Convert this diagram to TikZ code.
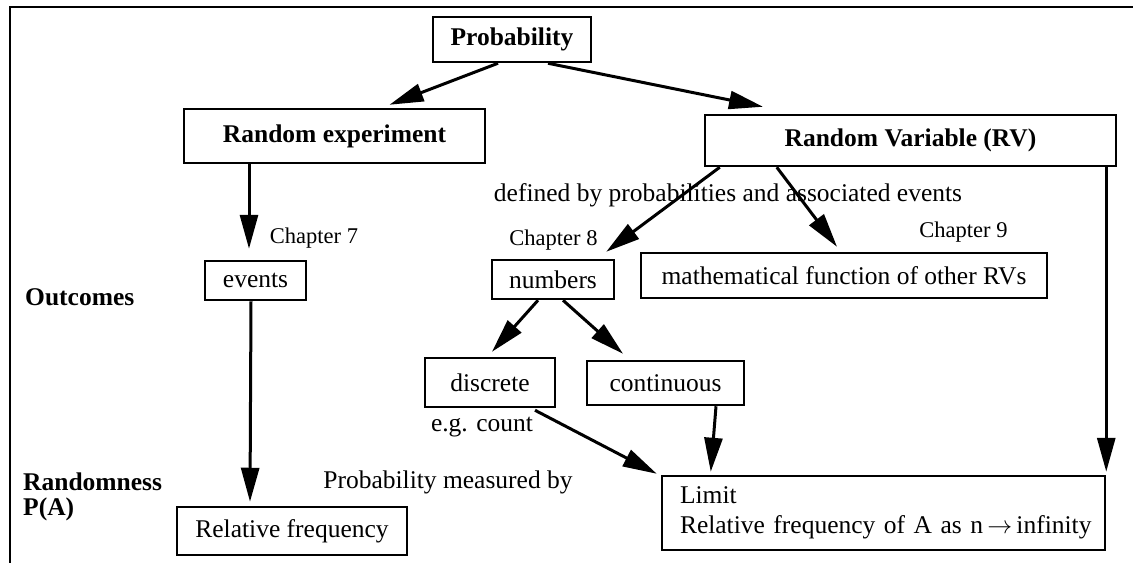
\documentclass[tikz,border=0pt]{standalone}
\usepackage{fontspec}
\setmainfont{Liberation Serif}
\usetikzlibrary{arrows.meta}

\begin{document}
\begin{tikzpicture}[
    x=1pt, y=-1pt,
    box/.style={
        rectangle,
        draw=black,
        line width=2.5pt,
        inner sep=0pt,
        align=center,
        font=\fontsize{25.5}{30}\selectfont
    },
    boldbox/.style={
        box,
        font=\fontsize{25.5}{30}\selectfont\bfseries
    },
    txt/.style={
        inner sep=0pt,
        font=\fontsize{25.5}{30}\selectfont
    },
    chaptxt/.style={
        inner sep=0pt,
        font=\fontsize{22.5}{27}\selectfont
    },
    rowtxt/.style={
        inner sep=0pt,
        anchor=west,
        align=left,
        font=\fontsize{25.5}{25}\selectfont\bfseries
    },
    conn/.style={
        line width=3pt,
        -{Triangle[length=34pt,width=18pt]}
    }
]
\useasboundingbox (0,0) rectangle (1133,563);

% Frame
\draw[line width=2.5pt] (1133,7) -- (10,7) -- (10,563);

% Top level
\node[boldbox, minimum width=158pt, minimum height=45pt] (prob) at (512,39.5) {Probability};
\node[boldbox, minimum width=301pt, minimum height=54pt] (randexp) at (334.5,136) {Random experiment};
\node[boldbox, minimum width=411pt, minimum height=51pt] (rv) at (910.5,140.5) {Random Variable (RV)};

% Outcomes
\node[box, minimum width=101pt, minimum height=39pt] (events) at (255.5,280.5) {events};
\node[box, minimum width=122pt, minimum height=39pt] (numbers) at (553,279.5) {numbers};
\node[box, minimum width=406pt, minimum height=45pt] (mathfn) at (844,275.5) {mathematical function of other RVs};
\node[box, minimum width=130pt, minimum height=49pt] (discrete) at (490,382.5) {discrete};
\node[box, minimum width=157pt, minimum height=44pt] (continuous) at (665.5,383) {continuous};

% Randomness
\node[box, minimum width=230pt, minimum height=48pt] (relfreq) at (292,531) {Relative frequency};
\node[box, minimum width=443pt, minimum height=74pt, inner xsep=18pt, align=left, text width=407pt] (limit) at (883.5,513)
    {Limit\\\mbox{Relative frequency of A as n\,\(\rightarrow\)\,infinity}};

% Texts
\node[chaptxt] (chapseven) at (314,238) {Chapter 7};
\node[chaptxt] (chapeight) at (553.5,240) {Chapter 8};
\node[chaptxt] (chapnine) at (963.5,232) {Chapter 9};
\node[txt] (defined) at (728,195) {defined by probabilities and associated events};
\node[txt] (egcount) at (482,427) {e.g. count};
\node[txt] (measured) at (448,482) {Probability measured by};
\node[rowtxt] (outcomes) at (25,297) {Outcomes};
\node[rowtxt] (randomness) at (23,497) {Randomness\\P(A)};

% Arrows
\draw[conn] ([xshift=-14pt]prob.south) -- ([xshift=55pt,yshift=3pt]randexp.north);
\draw[conn] ([xshift=36pt]prob.south) -- ([xshift=-147.5pt,yshift=7pt]rv.north);
\draw[conn] ([xshift=-85.5pt]randexp.south) -- ([xshift=-6.5pt,yshift=11pt]events.north);
\draw[conn] ([xshift=-4.5pt]events.south) -- ([xshift=-42pt,yshift=4pt]relfreq.north);
\draw[conn] ([xshift=16pt]rv.south west) -- ([xshift=-9pt,yshift=7pt]numbers.north east);
\draw[conn] ([xshift=73pt]rv.south west) -- ([xshift=-7pt,yshift=5pt]mathfn.north);
\draw[conn] ([xshift=-11pt]rv.south east) -- ([yshift=3pt]limit.north east);
\draw[conn] ([xshift=-15pt]numbers.south) -- ([xshift=2pt,yshift=5pt]discrete.north);
\draw[conn] ([xshift=10pt]numbers.south) -- ([xshift=-42.5pt,yshift=6pt]continuous.north);
\draw[conn] ([xshift=45pt,yshift=-2pt]discrete.south) -- ([xshift=-4pt,yshift=1pt]limit.north west);
\draw[conn] ([xshift=50.5pt]continuous.south) -- ([xshift=50pt,yshift=3pt]limit.north west);

\end{tikzpicture}
\end{document}
